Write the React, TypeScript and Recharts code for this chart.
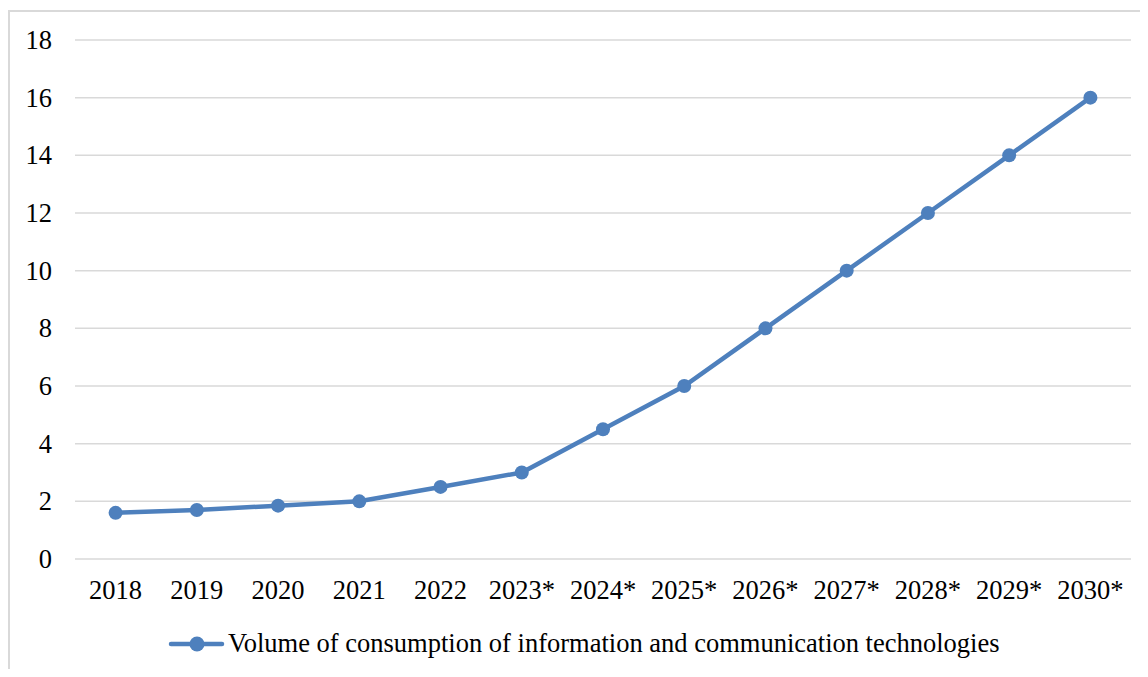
import { LineChart, Line, XAxis, YAxis, CartesianGrid } from "recharts"

const years = ["2018", "2019", "2020", "2021", "2022", "2023*", "2024*", "2025*", "2026*", "2027*", "2028*", "2029*", "2030*"]
const volume = [1.6, 1.7, 1.85, 2.0, 2.5, 3, 4.5, 6, 8, 10, 12, 14, 16]
const yTicks = [0, 2, 4, 6, 8, 10, 12, 14, 16, 18]

const seriesName = "Volume of consumption of information and communication technologies"
const BLUE = "#4e80bd"
const FONT = "'Liberation Serif', 'Times New Roman', serif"
const FS = 26.5

const data = years.map((year, i) => ({ year, volume: volume[i] }))

function XTick({ x, y, payload }: any) {
  return (
    <text x={x} y={y} dy={28} textAnchor="middle" fontFamily={FONT} fontSize={FS} fill="#000">
      {payload.value}
    </text>
  )
}

function YTick({ x, y, payload }: any) {
  return (
    <text x={x} y={y} dy={9} textAnchor="end" fontFamily={FONT} fontSize={FS} fill="#000">
      {payload.value}
    </text>
  )
}

export default function App() {
  return (
    <div style={{ position: "relative", width: 1148, height: 677, margin: -8, background: "#fff", overflow: "hidden" }}>
      {/* outer frame, only top and left edges are visible */}
      <div style={{ position: "absolute", left: 8, top: 10, width: 1160, height: 690, border: "2px solid #d9d9d9", boxSizing: "border-box" }} />
      <LineChart width={1148} height={677} data={data} margin={{ top: 40, right: 17, bottom: 88, left: 15 }}>
        <CartesianGrid vertical={false} stroke="#d9d9d9" strokeWidth={1.5} />
        <XAxis
          dataKey="year"
          height={30}
          axisLine={false}
          tickLine={false}
          tickMargin={6}
          interval={0}
          padding={{ left: 40.6, right: 40.6 }}
          tick={<XTick />}
        />
        <YAxis
          width={60}
          domain={[0, 18]}
          ticks={yTicks}
          axisLine={false}
          tickLine={false}
          tickMargin={17}
          tick={<YTick />}
        />
        <Line
          type="linear"
          dataKey="volume"
          name={seriesName}
          stroke={BLUE}
          strokeWidth={4.5}
          dot={{ r: 7, fill: BLUE, stroke: BLUE, strokeWidth: 0 }}
          activeDot={false}
          isAnimationActive={false}
        />
      </LineChart>
      {/* legend */}
      <svg width={1148} height={677} style={{ position: "absolute", left: 0, top: 0, pointerEvents: "none" }}>
        <line x1={171} y1={644} x2={222} y2={644} stroke={BLUE} strokeWidth={4.5} strokeLinecap="round" />
        <circle cx={197} cy={644} r={7.5} fill={BLUE} />
        <text x={228} y={652} fontFamily={FONT} fontSize={FS} fill="#000">{seriesName}</text>
      </svg>
    </div>
  )
}
